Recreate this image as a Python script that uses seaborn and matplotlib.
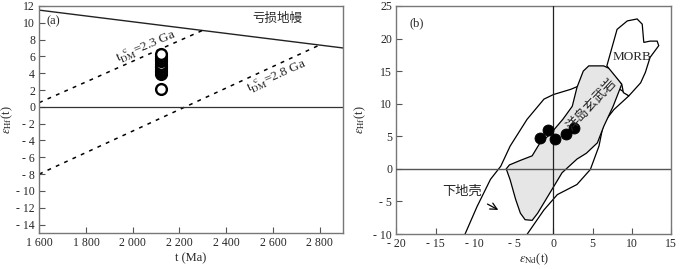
import matplotlib
matplotlib.use("Agg")
import matplotlib.pyplot as plt
from matplotlib.ticker import FuncFormatter
import seaborn as sns

# ---- panel (a): eHf(t) vs t ----
dm_t = [1600, 2900]
dm_eps = [11.5, 7.0]
t23 = [1600, 2300]
e23 = [0.5, 9.1]
t28 = [1600, 2800]
e28 = [-8.0, 7.35]
zircon_t = [2120] * 13
zircon_eps = [2.1, 3.9, 4.1, 4.3, 4.5, 4.7, 4.9, 5.1, 5.4, 5.6, 5.8, 6.0, 6.3]

# ---- panel (b): eHf(t) vs eNd(t) ----
sample_nd = [-1.65, -0.67, 0.17, 1.6, 2.6]
sample_hf = [4.8, 5.9, 4.6, 5.3, 6.25]

oib_nd = [-6.0, -5.5, -4.8, -4.2, -3.6, -2.7, -2.0, -0.5, 1.1, 3.0, 4.2, 5.6, 6.4,
          7.6, 8.7, 7.3, 6.4, 4.5, 3.8, 3.0, 2.4, 1.2, -0.5, -1.7, -2.7, -4.2, -5.6]
oib_hf = [0.0, -1.7, -4.7, -6.8, -7.8, -7.9, -6.8, -3.8, -0.6, 1.5, 2.4, 4.0, 6.5,
          9.6, 13.0, 15.3, 15.8, 15.8, 15.0, 12.5, 9.6, 7.6, 5.2, 4.0, 2.0, 1.3, 0.6]

morb_nd = [6.8, 8.1, 9.4, 10.65, 11.3, 11.5, 12.3, 13.2, 13.4, 12.3, 11.7, 11.1,
           9.6, 8.9, 8.7]
morb_hf = [15.8, 21.4, 22.7, 23.0, 22.2, 19.4, 19.6, 19.6, 18.9, 17.1, 14.8, 13.2,
           11.2, 11.7, 13.0]

lc_nd = [-11.6, -9.7, -8.0, -6.7, -5.5, -3.35, -1.2, 0.0, 2.2, 3.4, 6.0, 9.0, 9.6,
         7.7, 6.4, 5.8, 4.7, 3.0, 0.5, -1.2, -3.9]
lc_hf = [-11.0, -5.75, -1.6, 0.4, 3.5, 7.6, 10.7, 11.4, 12.2, 12.8, 14.0, 11.8, 11.2,
         9.1, 7.1, 3.5, -0.1, -2.4, -3.95, -6.3, -11.0]

sns.set_style("ticks")
plt.rcParams['font.family'] = ['Liberation Serif', 'Noto Sans CJK SC']
plt.rcParams['mathtext.fontset'] = 'stix'
plt.rcParams['xtick.direction'] = 'in'
plt.rcParams['ytick.direction'] = 'in'
plt.rcParams['axes.unicode_minus'] = False

cjk = ['Noto Sans CJK SC']


def num_fmt(v, pos):
    v = int(round(v))
    if v < 0:
        return '- %d' % -v
    if v >= 1000:
        return '%d %03d' % (v // 1000, v % 1000)
    return '%d' % v


fig = plt.figure(figsize=(7, 2.69), dpi=100)
ax1 = fig.add_axes([0.056, 0.134, 0.434, 0.844])
ax2 = fig.add_axes([0.566, 0.130, 0.393, 0.848])

for ax in (ax1, ax2):
    for sp in ax.spines.values():
        sp.set_color('#777777')
        sp.set_linewidth(1.0)
    ax.tick_params(labelsize=8.5, length=4, width=0.8, color='#555555', pad=3)
    ax.xaxis.set_major_formatter(FuncFormatter(num_fmt))
    ax.yaxis.set_major_formatter(FuncFormatter(num_fmt))

# panel a
sns.lineplot(x=dm_t, y=dm_eps, ax=ax1, color='#222222', lw=1.0)
sns.lineplot(x=t23, y=e23, ax=ax1, color='k', lw=1.1, linestyle=(0, (2.5, 3.5)))
sns.lineplot(x=t28, y=e28, ax=ax1, color='k', lw=1.1, linestyle=(0, (2.5, 3.5)))
ax1.axhline(0, color='#333333', lw=0.9)
sns.scatterplot(x=zircon_t, y=zircon_eps, ax=ax1, s=60, facecolor='white',
                edgecolor='k', linewidth=1.7, zorder=5)
ax1.set_xlim(1600, 2900)
ax1.set_ylim(-15, 12)
ax1.set_xticks(range(1600, 2801, 200))
ax1.set_yticks(range(-14, 13, 2))
ax1.set_xlabel('t (Ma)', fontsize=9, labelpad=2)
ax1.set_ylabel(r'$\varepsilon_{\rm Hf}$(t)', fontsize=9, labelpad=1)
ax1.text(1630, 10.15, '(a)', fontsize=9, va='center')
ax1.text(2621, 10.5, '亏损地幔', fontsize=9, ha='center', va='center', family=cjk)
ax1.text(2057, 7.1, r'$\mathrm{t}_{\rm DM}^{\ \ \rm c}$=2.3 Ga', fontsize=9.5,
         ha='center', va='center', rotation=23)
ax1.text(2616, 3.6, r'$\mathrm{t}_{\rm DM}^{\ \ \rm c}$=2.8 Ga', fontsize=9.5,
         ha='center', va='center', rotation=24)

# panel b
ax2.fill(lc_nd, lc_hf, facecolor='white', edgecolor='k', lw=0.9, zorder=2)
ax2.fill(oib_nd, oib_hf, facecolor='#e6e6e6', edgecolor='k', lw=0.9, zorder=3)
ax2.fill(morb_nd, morb_hf, facecolor='white', edgecolor='k', lw=0.9, zorder=3)
ax2.axhline(0, color='#555555', lw=1.0, zorder=4)
ax2.axvline(0, color='#222222', lw=0.9, zorder=4)
sns.scatterplot(x=sample_nd, y=sample_hf, ax=ax2, s=62, color='k',
                edgecolor='k', zorder=6)
ax2.set_xlim(-20, 15)
ax2.set_ylim(-10, 25)
ax2.set_xticks(range(-20, 16, 5))
ax2.set_yticks(range(-10, 26, 5))
ax2.set_xlabel(r'$\varepsilon_{\rm Nd}$(t)', fontsize=9, labelpad=1)
ax2.set_ylabel(r'$\varepsilon_{\rm Hf}$(t)', fontsize=9, labelpad=4)
ax2.text(-18.3, 22.3, '(b)', fontsize=9, va='center')
ax2.text(10.0, 17.1, 'MORB', fontsize=9.5, ha='center', va='center', zorder=7)
ax2.text(4.9, 9.9, '洋岛玄武岩', fontsize=9.5, ha='center', va='center',
         rotation=47, family=cjk, zorder=7)
ax2.text(-11.6, -3.45, '下地壳', fontsize=9.5, ha='center', va='center', family=cjk)
ax2.annotate('', xy=(-6.7, -6.5), xytext=(-8.7, -5.2),
             arrowprops=dict(arrowstyle='->', lw=0.9, color='k', mutation_scale=12))

fig.savefig('out.png', dpi=100)
